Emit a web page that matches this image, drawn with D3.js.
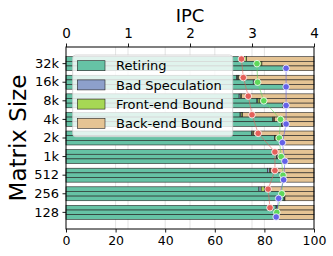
<!DOCTYPE html>
<html><head><meta charset="utf-8">
<script src="https://cdn.jsdelivr.net/npm/d3@7"></script>
<style>body{margin:0;background:#fff}svg{display:block;font-family:"DejaVu Sans",sans-serif}</style>
</head><body>
<svg id="c" width="333" height="256"></svg>
<script>
const categories = ["32k","16k","8k","4k","2k","1k","512","256","128"];
const stackLabels = ["Retiring","Bad Speculation","Front-end Bound","Back-end Bound"];
const stackColors = ["#66c2a5","#8da0cb","#a6d854","#e5c494"];
// config A (top bar, red points)
const retiringA = [71.5,68.8,69.8,70.2,74.8,83.6,81.2,77.8,84.7];
const badSpecA  = [0.5,0.4,0.5,0.4,0.3,0.3,0.8,0.9,0.3];
const frontEndA = [0.8,0.4,0.5,0.6,0.5,0.3,0.4,1.4,0.3];
const ipcA      = [2.83,2.86,2.94,3.00,3.10,3.37,3.37,3.26,3.29];
// config B (middle bar, green points)
const retiringB = [77.5,75.5,77.0,83.3,84.0,84.8,87.0,86.8,84.7];
const badSpecB  = [0.5,0.5,0.4,0.3,0.3,0.3,0.3,0.3,0.3];
const frontEndB = [1.0,2.3,0.8,0.5,0.5,0.3,0.3,0.3,0.3];
const ipcB      = [3.08,3.09,3.19,3.46,3.44,3.47,3.50,3.48,3.40];
// config C (bottom bar, blue points)
const retiringC = [87.6,87.6,87.5,87.0,87.0,87.6,87.0,87.9,84.7];
const badSpecC  = [0.2,0.2,0.2,0.2,0.2,0.2,0.2,0.2,0.2];
const frontEndC = [0.2,0.2,0.2,0.2,0.2,0.2,0.2,0.2,0.2];
const ipcC      = [3.55,3.55,3.55,3.55,3.49,3.53,3.51,3.43,3.39];
const pctTicks = [0,20,40,60,80,100];
const ipcTicks = [0,1,2,3,4];

const configs = [
  {ret:retiringA,bs:badSpecA,fe:frontEndA,ipc:ipcA,color:"#e4605a"},
  {ret:retiringB,bs:badSpecB,fe:frontEndB,ipc:ipcB,color:"#5fd85a"},
  {ret:retiringC,bs:badSpecC,fe:frontEndC,ipc:ipcC,color:"#6462e8"}
];

const L=66,R=314,T=47,B=229;
const svg=d3.select("#c");
const x=d3.scaleLinear().domain([0,100]).range([L,R]);
const xi=d3.scaleLinear().domain([0,4]).range([L,R]);
const y=d3.scaleBand().domain(categories).range([T,B]).paddingInner(0.25).paddingOuter(0.52);
const ys=d3.scaleBand().domain([0,1,2]).range([0,y.bandwidth()]);

// grid
svg.append("g").selectAll("line").data(pctTicks.slice(1,-1)).join("line")
  .attr("x1",d=>x(d)).attr("x2",d=>x(d)).attr("y1",T).attr("y2",B)
  .attr("stroke","#dcdcdc").attr("stroke-width",0.8);
svg.append("g").selectAll("line").data(ipcTicks.slice(1,-1)).join("line")
  .attr("x1",d=>xi(d)).attr("x2",d=>xi(d)).attr("y1",T).attr("y2",B)
  .attr("stroke","#dcdcdc").attr("stroke-width",0.8);

// bars
const segs=[];
configs.forEach((c,ci)=>{
  categories.forEach((cat,i)=>{
    const vals=[c.ret[i],c.bs[i],c.fe[i]];
    vals.push(100-vals[0]-vals[1]-vals[2]);
    let acc=0;
    vals.forEach((v,k)=>{segs.push({cat,ci,k,x0:acc,x1:acc+v});acc+=v;});
  });
});
svg.append("g").selectAll("rect").data(segs).join("rect")
  .attr("x",d=>x(d.x0)).attr("width",d=>x(d.x1)-x(d.x0))
  .attr("y",d=>y(d.cat)+ys(d.ci)).attr("height",ys.bandwidth())
  .attr("fill",d=>stackColors[d.k]).attr("stroke","#222").attr("stroke-width",0.6);

// lines & points
configs.forEach((c,ci)=>{
  const pts=categories.map((cat,i)=>[xi(c.ipc[i]),y(cat)+ys(ci)+ys.bandwidth()/2]);
  svg.append("path").attr("d",d3.line()(pts)).attr("fill","none")
    .attr("stroke",c.color).attr("stroke-opacity",0.6).attr("stroke-width",1);
});
configs.forEach((c,ci)=>{
  svg.append("g").selectAll("circle").data(categories).join("circle")
    .attr("cx",(d,i)=>xi(c.ipc[i])).attr("cy",d=>y(d)+ys(ci)+ys.bandwidth()/2)
    .attr("r",3.3).attr("fill",c.color).attr("stroke","#fff").attr("stroke-width",0.8);
});

// frame
svg.append("rect").attr("x",L).attr("y",T).attr("width",R-L).attr("height",B-T)
  .attr("fill","none").attr("stroke","#000").attr("stroke-width",1);

function styleAxis(g,fs){
  g.select(".domain").remove();
  g.selectAll(".tick line").attr("stroke","#000").attr("stroke-width",0.9);
  g.selectAll(".tick text").attr("fill","#000").style("font-size",fs+"px").style("font-family","DejaVu Sans");
}
svg.append("g").attr("transform",`translate(0,${B})`)
  .call(d3.axisBottom(x).tickValues(pctTicks).tickFormat(d3.format("d")).tickSize(3.5).tickPadding(4))
  .call(g=>styleAxis(g,12.5));
svg.append("g").attr("transform",`translate(0,${T})`)
  .call(d3.axisTop(xi).tickValues(ipcTicks).tickFormat(d3.format("d")).tickSize(3.5).tickPadding(5.5))
  .call(g=>styleAxis(g,13.5));
svg.append("g").attr("transform",`translate(${L},0)`)
  .call(d3.axisLeft(y).tickSize(3.5).tickPadding(3.5))
  .call(g=>styleAxis(g,13));

svg.append("text").attr("x",(L+R)/2).attr("y",21.5).attr("text-anchor","middle")
  .style("font-size","18px").text("IPC");
svg.append("text").attr("transform",`translate(25.5,${(T+B)/2}) rotate(-90)`)
  .attr("text-anchor","middle").style("font-size","23px").text("Matrix Size");

// legend
const lg=svg.append("g");
lg.append("rect").attr("x",72.7).attr("y",55).attr("width",160).attr("height",81.7)
  .attr("rx",3).attr("fill","#fff").attr("fill-opacity",0.8).attr("stroke","#ccc").attr("stroke-width",0.8);
stackLabels.forEach((s,k)=>{
  const cy=65.7+k*19.2;
  lg.append("rect").attr("x",77.3).attr("y",cy-5).attr("width",27.7).attr("height",10)
    .attr("fill",stackColors[k]).attr("stroke","#222").attr("stroke-width",0.6);
  lg.append("text").attr("x",116).attr("y",cy).attr("dy","0.36em").style("font-size","13px").text(s);
});
</script>
</body></html>
